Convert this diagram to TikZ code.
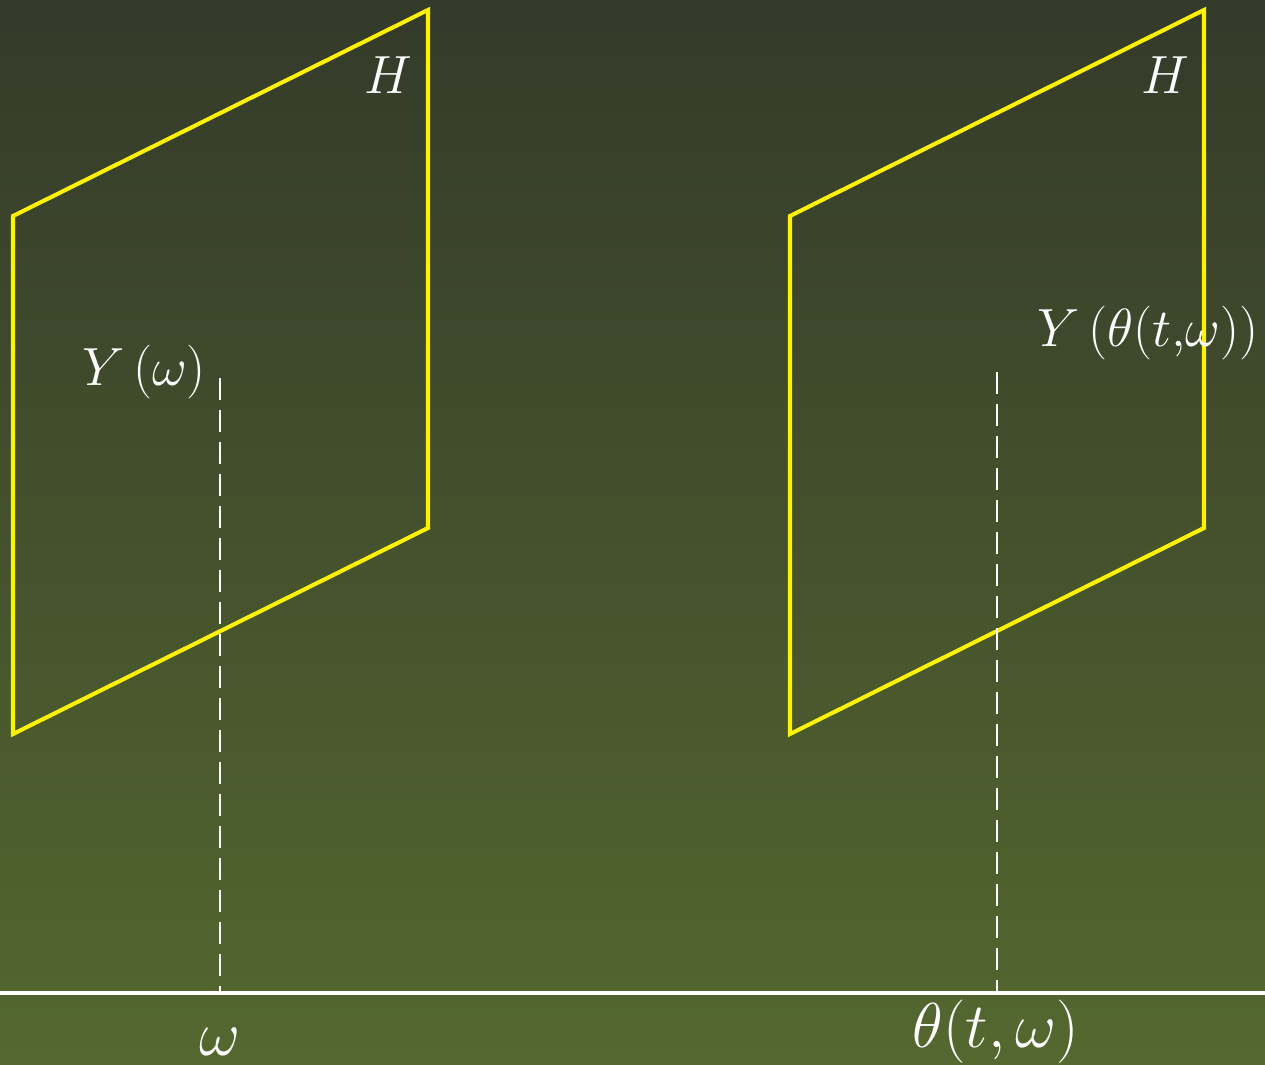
\documentclass[tikz,border=0pt]{standalone}
\usepackage{amsmath}
\usetikzlibrary{calc}

\newcommand{\lblsize}[1]{\scalebox{1.23}{\fontsize{24.88}{30}\selectfont #1}}
\newcommand{\bigsize}[1]{\scalebox{1.45}{\fontsize{24.88}{30}\selectfont #1}}

\begin{document}
\begin{tikzpicture}[
    x=0.02cm, y=-0.02cm,
    plane/.style={draw=yellow, line width=2.3pt, line join=miter},
    guide/.style={draw=white, line width=1.2pt, dash pattern=on 12.5pt off 5.7pt},
    axis/.style={draw=white, line width=2pt},
    lbl/.style={text=white, inner sep=0pt},
]

    %==================== background ====================
    \shade[top color={rgb,255:red,52;green,58;blue,42},
           bottom color={rgb,255:red,84;green,104;blue,47}]
        (0,0) rectangle (1265,1065);
    \useasboundingbox (0,0) rectangle (1265,1065);

    %==================== left plane ====================
    \coordinate (l1) at (13,216);
    \coordinate (l2) at (428,10);
    \coordinate (l3) at (428,528);
    \coordinate (l4) at (13,734);
    \draw[plane] (l1) -- (l2) -- (l3) -- (l4) -- cycle;
    \node[lbl] (hl) at (388,75) {\lblsize{$H$}};

    %==================== right plane ====================
    \coordinate (r1) at (790,216);
    \coordinate (r2) at (1204,10);
    \coordinate (r3) at (1204,528);
    \coordinate (r4) at (790,734);
    \draw[plane] (r1) -- (r2) -- (r3) -- (r4) -- cycle;
    \node[lbl] (hr) at (1165,75) {\lblsize{$H$}};

    %==================== base line ====================
    \coordinate (a0) at (0,993);
    \coordinate (a1) at (1265,993);
    \draw[axis] (a0) -- (a1);

    %==================== fibres ====================
    \coordinate (wtop) at (220,378);
    \coordinate (wbot) at (220,993);
    \draw[guide] (wtop) -- (wbot);
    \node[lbl] (yw) at (144,372) {\lblsize{$Y\,(\omega)$}};
    \node[lbl] (w) at (220,1042) {\bigsize{$\omega$}};

    \coordinate (ttop) at (997,372);
    \coordinate (tbot) at (997,993);
    \draw[guide] (ttop) -- (tbot);
    \node[lbl] (yt) at (1148,333) {\lblsize{$Y\,(\theta(t{,}\omega))$}};
    \node[lbl] (t) at (996,1032) {\bigsize{$\theta(t,\omega)$}};

\end{tikzpicture}
\end{document}
